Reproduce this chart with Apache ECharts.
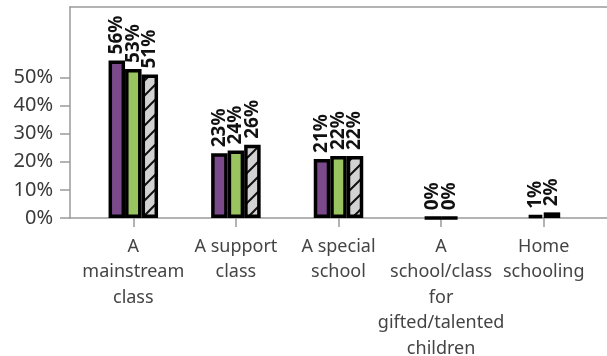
<!DOCTYPE html>
<html>
<head>
<meta charset="utf-8">
<script src="https://cdn.jsdelivr.net/npm/echarts@6/dist/echarts.min.js"></script>
<style>
  html, body { margin: 0; padding: 0; background: #fff; }
  #box { width: 607px; height: 356px; }
</style>
</head>
<body>
<div id="box"></div>
<script>
// categories and values (percent)
const aCategories = ['A\nmainstream\nclass', 'A support\nclass', 'A special\nschool', 'A\nschool/class\nfor\ngifted/talented\nchildren', 'Home\nschooling'];
const aYTicks = [0, 10, 20, 30, 40, 50];
// first three categories: three bars each
const aPurple = [56, 23, 21, null, null];
const aGreen = [53, 24, 22, null, null];
const aHatched = [51, 26, 22, null, null];
// last two categories: two bars each
const aPairLeft = [null, null, null, 0, 1];
const aPairRight = [null, null, null, 0, 2];

const sFont = '"Noto Sans", "Open Sans", sans-serif';

// ▼ hatch pattern: light grey with black "/" lines
function makeHatch(){
    const c = document.createElement('canvas');
    c.width = 15; c.height = 15;
    const ctx = c.getContext('2d');
    ctx.fillStyle = '#d2d2d2';
    ctx.fillRect(0, 0, 15, 15);
    ctx.strokeStyle = '#111';
    ctx.lineWidth = 2;
    ctx.beginPath();
    ctx.moveTo(-2, 17); ctx.lineTo(17, -2);
    ctx.moveTo(-2, 2); ctx.lineTo(2, -2);
    ctx.moveTo(13, 17); ctx.lineTo(17, 13);
    ctx.stroke();
    return c;
}
const oHatch = { image: makeHatch(), repeat: 'repeat' };

const oLabel = {
    show: true,
    position: 'top',
    rotate: 90,
    align: 'left',
    verticalAlign: 'middle',
    distance: 6,
    fontFamily: sFont,
    fontWeight: 'bold',
    fontSize: 19,
    color: '#111',
    formatter: p => p.value + '%',
};

function barSeries(name, data, color, xIdx){
    return {
        name,
        type: 'bar',
        xAxisIndex: xIdx,
        yAxisIndex: 1,
        data,
        barWidth: 16.5,
        barGap: '0%',
        itemStyle: { color, borderColor: '#000', borderWidth: 3.5 },
        label: oLabel,
    };
}

const myChart = echarts.init(document.getElementById('box'), null, { renderer: 'canvas' });
const oAxisLine = { lineStyle: { color: '#9a9a9a', width: 1.5 } };
const option = {
    animation: false,
    grid: [
        { left: 70, right: 0, top: 7, bottom: 138, outerBoundsMode: 'none' }, // frame
        { left: 82, right: 12, top: 7, bottom: 138, outerBoundsMode: 'none' }, // bars
    ],
    xAxis: [
        { type: 'category', gridIndex: 0, data: ['x'], axisLine: oAxisLine, axisTick: { show: false }, axisLabel: { show: false } },
        { type: 'category', gridIndex: 0, position: 'top', data: ['x'], axisLine: oAxisLine, axisTick: { show: false }, axisLabel: { show: false } },
        {
            type: 'category', gridIndex: 1, data: aCategories,
            axisLine: { show: false },
            axisTick: { show: true, alignWithLabel: true, length: 9, lineStyle: { color: '#9a9a9a', width: 1.5 } },
            axisLabel: { interval: 0, margin: 16, fontFamily: sFont, fontSize: 18, lineHeight: 25.5, color: '#444' },
        },
        { type: 'category', gridIndex: 1, data: aCategories, show: false },
    ],
    yAxis: [
        {
            type: 'value', gridIndex: 0, min: 0, max: 75,
            splitLine: { show: false },
            axisLine: { show: true, lineStyle: { color: '#9a9a9a', width: 1.5 } },
            axisTick: { show: true, length: 10, customValues: aYTicks, lineStyle: { color: '#9a9a9a', width: 1.5 } },
            axisLabel: { customValues: aYTicks, margin: 17, fontFamily: sFont, fontSize: 20, color: '#3a3a3a', formatter: v => v + '%' },
        },
        { type: 'value', gridIndex: 1, min: 0, max: 75, show: false, splitLine: { show: false } },
    ],
    series: [
        barSeries('S1', aPurple, '#7b4a8b', 2),
        barSeries('S2', aGreen, '#99c45f', 2),
        barSeries('S3', aHatched, oHatch, 2),
        barSeries('S4', aPairLeft, '#99c45f', 3),
        barSeries('S5', aPairRight, oHatch, 3),
    ],
};
myChart.setOption(option);
</script>
</body>
</html>
